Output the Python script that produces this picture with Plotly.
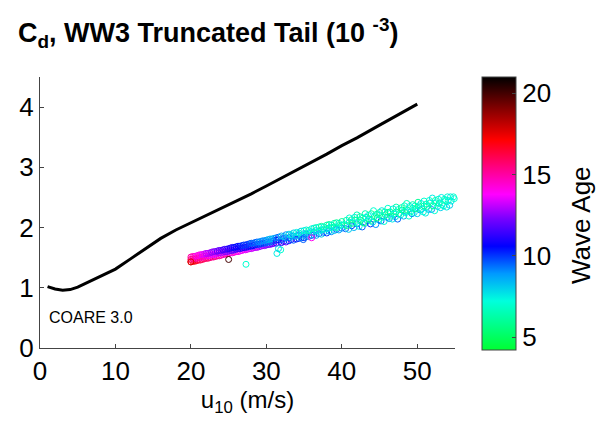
import plotly.graph_objects as go

# ---------------- data ----------------
# COARE 3.0 drag coefficient curve (x 10^-3)
coare_u10 = [1, 2, 3, 4, 5, 6, 8, 10, 12, 14, 16, 18, 20, 22, 25, 28, 30, 32, 35, 38, 40, 42, 45, 48, 50]
coare_cd = [1.02, 0.98, 0.96, 0.97, 1.01, 1.07, 1.20, 1.31, 1.48, 1.65, 1.82, 1.96, 2.08, 2.19,
            2.37, 2.56, 2.69, 2.82, 3.02, 3.22, 3.36, 3.49, 3.70, 3.91, 4.05]

# WW3 truncated-tail scatter, dense part (u10 20-31 m/s)
ua = [20.0, 20.25, 20.5, 20.75, 21.0, 21.25, 21.5, 21.75, 22.0, 22.25, 22.5, 22.75, 23.0, 23.25, 23.5,
      23.75, 24.0, 24.25, 24.5, 24.75, 25.0, 25.25, 25.5, 25.75, 26.0, 26.25, 26.5, 26.75, 27.0, 27.25,
      27.5, 27.75, 28.0, 28.25, 28.5, 28.75, 29.0, 29.25, 29.5, 29.75, 30.0, 30.25, 30.5, 30.75, 31.0]
cd_a_low = [1.43, 1.44, 1.44, 1.45, 1.46, 1.46, 1.47, 1.48, 1.49, 1.49, 1.50, 1.51, 1.51, 1.52, 1.53,
            1.53, 1.54, 1.55, 1.56, 1.56, 1.57, 1.58, 1.58, 1.59, 1.60, 1.60, 1.61, 1.62, 1.63, 1.63,
            1.64, 1.65, 1.65, 1.66, 1.67, 1.67, 1.68, 1.69, 1.70, 1.70, 1.71, 1.72, 1.72, 1.73, 1.74]
cd_a_mid = [1.47, 1.48, 1.48, 1.49, 1.50, 1.50, 1.51, 1.52, 1.53, 1.53, 1.54, 1.55, 1.55, 1.56, 1.57,
            1.58, 1.58, 1.59, 1.60, 1.60, 1.61, 1.62, 1.62, 1.63, 1.64, 1.65, 1.65, 1.66, 1.67, 1.67,
            1.68, 1.69, 1.69, 1.70, 1.71, 1.72, 1.72, 1.73, 1.74, 1.74, 1.75, 1.76, 1.76, 1.77, 1.78]
cd_a_high = [1.51, 1.52, 1.52, 1.53, 1.54, 1.55, 1.55, 1.56, 1.57, 1.57, 1.58, 1.59, 1.60, 1.60, 1.61,
             1.62, 1.62, 1.63, 1.64, 1.64, 1.65, 1.66, 1.67, 1.67, 1.68, 1.69, 1.69, 1.70, 1.71, 1.71,
             1.72, 1.73, 1.74, 1.74, 1.75, 1.76, 1.76, 1.77, 1.78, 1.78, 1.79, 1.80, 1.81, 1.81, 1.82]
age_a_low = [18, 17.5, 17, 16.5, 16.5, 16, 16, 16, 15.5, 16, 15.5, 15.5, 15, 15.5, 15,
             15, 15, 14.5, 15, 14.5, 14.5, 14.5, 14, 14.5, 14, 14, 14, 13.5, 14, 13.5,
             13.5, 13.5, 13, 13.5, 13, 13, 13, 12.5, 13, 12.5, 12.5, 12, 12.5, 12, 12]
age_a_mid = [16, 15.5, 15.5, 15, 15, 15, 14.5, 14.5, 14.5, 14, 14, 14, 13.5, 13.5, 13.5,
             13, 13, 13, 12.5, 12.5, 12.5, 12, 12, 12, 11.5, 11.5, 11.5, 11, 11, 11,
             11, 10.5, 10.5, 10.5, 10.5, 10, 10, 10, 10, 10, 9.5, 9.5, 9.5, 9.5, 9.5]
age_a_high = [15, 14.5, 14.5, 14, 14, 14, 13.5, 13.5, 13, 13, 13, 12.5, 12.5, 12.5, 12,
              12, 12, 11.5, 11.5, 11.5, 11, 11, 11, 10.5, 10.5, 10.5, 10.5, 10, 10, 10,
              10, 10, 9.5, 9.5, 9.5, 9.5, 9, 9, 9, 9, 9, 8.5, 8.5, 8.5, 8.5]

# middle part (u10 31-40 m/s)
ub = [31.3, 31.6, 32.0, 32.3, 32.6, 33.0, 33.3, 33.6, 34.0, 34.3, 34.6, 35.0, 35.3, 35.6, 36.0,
      36.3, 36.6, 37.0, 37.3, 37.6, 38.0, 38.3, 38.6, 39.0, 39.3, 39.6, 40.0]
cd_b_low = [1.74, 1.75, 1.75, 1.77, 1.76, 1.78, 1.80, 1.79, 1.81, 1.82, 1.83, 1.83, 1.85, 1.85, 1.87,
            1.88, 1.87, 1.90, 1.89, 1.92, 1.91, 1.94, 1.93, 1.95, 1.97, 1.96, 1.99]
cd_b_mid = [1.79, 1.80, 1.80, 1.82, 1.83, 1.83, 1.85, 1.86, 1.86, 1.88, 1.87, 1.90, 1.89, 1.91, 1.93,
            1.92, 1.95, 1.94, 1.96, 1.97, 1.98, 1.99, 2.00, 2.01, 2.00, 2.03, 2.04]
cd_b_high = [1.83, 1.84, 1.86, 1.85, 1.88, 1.89, 1.88, 1.91, 1.92, 1.91, 1.94, 1.95, 1.96, 1.95, 1.98,
             1.99, 2.00, 2.01, 2.02, 2.01, 2.04, 2.05, 2.04, 2.07, 2.08, 2.07, 2.10]
age_b_low = [11.5, 12.5, 11, 10.5, 12, 10, 11, 9.5, 10.5, 10, 9, 10, 9.5, 8.5, 10,
             9, 8.5, 9.5, 8, 9, 10, 8.5, 9, 8, 9.5, 8.5, 9]
age_b_mid = [10, 10.5, 9.5, 10, 9, 9.5, 8.5, 9, 8.5, 9.5, 8, 8.5, 9, 8, 7.5,
             8.5, 8, 7.5, 8, 7, 7.5, 8, 7, 7.5, 6.5, 7.5, 7]
age_b_high = [9, 9.5, 8.5, 8, 9, 8, 7.5, 8, 7.5, 7, 8, 7, 7.5, 6.5, 7,
              7.5, 6.5, 7, 6, 7, 6.5, 6, 7, 6.5, 6, 7, 6]

# sparse high-wind cloud (u10 40-55 m/s)
uc_low = [40.5, 40.9, 41.3, 41.6, 42.0, 42.3, 42.7, 43.1, 43.4, 43.8, 44.1, 44.5, 44.9, 45.2, 45.6,
          46.0, 46.3, 46.7, 47.1, 47.4, 47.8, 48.2, 48.5, 48.9, 49.3, 49.6, 50.0, 50.4, 50.8, 51.1,
          51.5, 51.9, 52.3, 52.7, 53.1, 53.5, 53.9, 54.3]
cd_c_low = [1.98, 1.97, 2.03, 2.00, 2.06, 2.02, 2.01, 2.07, 2.11, 2.06, 2.09, 2.05, 2.13, 2.11, 2.10,
            2.17, 2.15, 2.14, 2.18, 2.14, 2.21, 2.19, 2.25, 2.19, 2.23, 2.25, 2.23, 2.29, 2.26, 2.24,
            2.30, 2.30, 2.28, 2.35, 2.33, 2.36, 2.34, 2.37]
age_c_low = [9.5, 8, 10, 8.5, 9, 7.5, 9.5, 8, 8.5, 10, 7.5, 9, 8, 9.5, 7,
             8.5, 9, 7.5, 8, 9.5, 7, 8.5, 8, 7, 9, 7.5, 8, 8.5, 7, 7.5,
             8, 9, 7, 7.5, 8, 7, 7.5, 8]
uc_mid = [40.3, 40.7, 41.0, 41.4, 41.8, 42.1, 42.5, 42.9, 43.2, 43.6, 43.9, 44.3, 44.7, 45.0, 45.4,
          45.8, 46.1, 46.5, 46.9, 47.2, 47.6, 48.0, 48.3, 48.7, 49.1, 49.4, 49.8, 50.2, 50.6, 50.9,
          51.3, 51.7, 52.1, 52.5, 52.9, 53.3, 53.7, 54.1, 54.5, 54.9]
cd_c_mid = [2.05, 2.03, 2.09, 2.07, 2.12, 2.08, 2.12, 2.08, 2.17, 2.14, 2.12, 2.18, 2.16, 2.21, 2.17,
            2.21, 2.25, 2.19, 2.23, 2.26, 2.23, 2.29, 2.26, 2.29, 2.26, 2.32, 2.31, 2.36, 2.31, 2.36,
            2.35, 2.41, 2.36, 2.41, 2.40, 2.38, 2.45, 2.45, 2.44, 2.48]
age_c_mid = [7, 6, 7.5, 5.5, 6.5, 7, 6, 5.5, 7, 6.5, 6, 7.5, 5.5, 6.5, 7,
             6, 5.5, 6.5, 7, 6, 6.5, 5.5, 7, 6, 6.5, 7, 6, 6.5, 7.5, 6,
             6.5, 7, 6, 7, 6.5, 7, 6.5, 7, 7.5, 7]
uc_high = [40.6, 41.0, 41.3, 41.7, 42.0, 42.4, 42.8, 43.1, 43.5, 43.9, 44.2, 44.6, 45.0, 45.3, 45.7,
           46.1, 46.4, 46.8, 47.2, 47.5, 47.9, 48.3, 48.6, 49.0, 49.4, 49.7, 50.1, 50.5, 50.9, 51.2,
           51.6, 52.0, 52.4, 52.8, 53.2, 53.6, 54.0, 54.4, 54.8]
cd_c_high = [2.12, 2.16, 2.13, 2.17, 2.21, 2.18, 2.16, 2.23, 2.20, 2.23, 2.28, 2.22, 2.25, 2.28, 2.26,
             2.32, 2.26, 2.31, 2.34, 2.30, 2.33, 2.36, 2.40, 2.35, 2.38, 2.36, 2.42, 2.40, 2.44, 2.39,
             2.45, 2.49, 2.45, 2.47, 2.50, 2.47, 2.51, 2.51, 2.51]
age_c_high = [6.5, 7, 6, 7.5, 6.5, 6, 7, 6.5, 7.5, 6, 7, 6.5, 6, 7.5, 6.5,
              7, 6, 7.5, 6.5, 7, 6, 7, 6.5, 7.5, 6.5, 7, 6, 7.5, 7, 6.5,
              7, 7.5, 6.5, 7, 7.5, 7, 7, 7.5, 7]

# a few outliers
ud = [25.0, 27.3, 31.4, 31.9, 31.6, 34.9, 36.0, 20.0]
cd_d = [1.47, 1.39, 1.57, 1.63, 1.65, 1.80, 1.83, 1.43]
age_d = [20, 7, 7.5, 7, 8, 9.5, 14, 17.5]

scatter_u10 = ua * 3 + ub * 3 + uc_low + uc_mid + uc_high + ud
scatter_cd = (cd_a_low + cd_a_mid + cd_a_high + cd_b_low + cd_b_mid + cd_b_high
              + cd_c_low + cd_c_mid + cd_c_high + cd_d)
scatter_age = (age_a_low + age_a_mid + age_a_high + age_b_low + age_b_mid + age_b_high
               + age_c_low + age_c_mid + age_c_high + age_d)

x_ticks = [0, 10, 20, 30, 40, 50]
y_ticks = [0, 1, 2, 3, 4]
cbar_ticks = [5, 10, 15, 20]

# ---------------- figure ----------------
FONT = "Liberation Sans, Arial, Helvetica, sans-serif"

colorscale = [
    [0.00, "#00ff33"],
    [0.18, "#00ffdd"],
    [0.28, "#0099ff"],
    [0.38, "#0000ff"],
    [0.48, "#7700ff"],
    [0.57, "#ff00ff"],
    [0.67, "#ff0080"],
    [0.77, "#ff0000"],
    [0.88, "#880000"],
    [1.00, "#000000"],
]

fig = go.Figure()

fig.add_trace(go.Scatter(
    x=coare_u10, y=coare_cd, mode="lines",
    line=dict(color="black", width=3),
    showlegend=False, hoverinfo="skip",
))

fig.add_trace(go.Scatter(
    x=scatter_u10, y=scatter_cd, mode="markers", cliponaxis=False,
    marker=dict(
        symbol="circle-open", size=6, line=dict(width=1),
        color=scatter_age, colorscale=colorscale, cmin=4.2, cmax=21,
        showscale=True,
        colorbar=dict(
            x=(482 - 40) / 415, xanchor="left", y=1.0, yanchor="top",
            len=273, lenmode="pixels", thickness=34, thicknessmode="pixels",
            xpad=0, ypad=0, outlinewidth=1, outlinecolor="#444",
            tickvals=cbar_ticks, ticks="inside", ticklen=4, tickcolor="#444",
            tickfont=dict(family=FONT, size=26, color="black"),
        ),
    ),
    showlegend=False,
))

fig.add_annotation(
    x=0.9, y=0.5, xref="x", yref="y", xanchor="left", yanchor="middle",
    text="COARE 3.0", showarrow=False,
    font=dict(family=FONT, size=16, color="black"),
)

# colorbar title, placed as rotated text to the right of the tick labels
fig.add_annotation(
    x=(581 - 40) / 415, y=(348 - 225) / 271, xref="paper", yref="paper",
    xanchor="center", yanchor="middle", textangle=-90,
    text="Wave Age", showarrow=False,
    font=dict(family=FONT, size=26, color="black"),
)

fig.update_layout(
    width=597, height=431,
    margin=dict(l=40, r=142, t=77, b=83),
    paper_bgcolor="white", plot_bgcolor="white",
    title=dict(
        text="C<sub>d</sub>, WW3 Truncated Tail (10 <sup>-3</sup>)",
        x=18 / 597, xanchor="left", xref="container",
        y=1 - 33 / 431, yanchor="middle", yref="container",
        font=dict(family=FONT, size=27, color="black", weight="bold"),
    ),
    font=dict(family=FONT, color="black"),
)

fig.update_xaxes(
    range=[0, 55], tickvals=x_ticks, showgrid=False, zeroline=False,
    showline=True, linecolor="#444", linewidth=1, ticks="inside", ticklen=4, tickcolor="#444",
    tickfont=dict(family=FONT, size=26, color="black"),
    title=dict(text="u<sub>10</sub> (m/s)", font=dict(family=FONT, size=24, color="black"), standoff=4),
)
fig.update_yaxes(
    range=[0, 4.5], tickvals=y_ticks, showgrid=False, zeroline=False,
    showline=True, linecolor="#444", linewidth=1, ticks="inside", ticklen=4, tickcolor="#444",
    tickfont=dict(family=FONT, size=26, color="black"),
    ticklabelstandoff=0,
)

fig.write_html("out.html")
